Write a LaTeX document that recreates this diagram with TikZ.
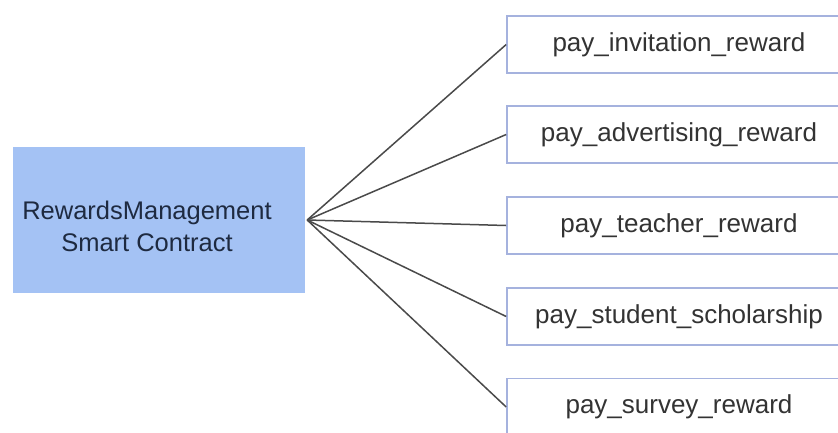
\documentclass[tikz,border=0pt]{standalone}
\usepackage{fontspec}
\setmainfont{Liberation Sans}
\definecolor{mainfill}{HTML}{A4C2F4}
\definecolor{boxline}{RGB}{165,178,222}
\definecolor{connline}{HTML}{4A4A4A}
\definecolor{txtdark}{HTML}{1E2A40}
\definecolor{txtgray}{HTML}{333333}
\tikzset{
  mainbox/.style={fill=mainfill, draw=none, minimum width=292pt, minimum height=146pt,
    inner sep=0pt},
  maintext/.style={align=center, text=txtdark, inner sep=0pt, font=\fontsize{25.5pt}{32pt}\selectfont},
  funcbox/.style={draw=boxline, line width=1.6pt, fill=white, minimum width=344pt, minimum height=57pt,
    inner sep=0pt, text=txtgray, font=\fontsize{26pt}{32pt}\selectfont},
  conn/.style={draw=connline, line width=1.5pt}
}
\begin{document}
\begin{tikzpicture}[x=1pt,y=-1pt]
\clip (0,0) rectangle (838,432);
\fill[white] (0,0) rectangle (838,432);
\node[mainbox] (L) at (159,220) {};
\node[maintext] (Ltxt) at (147,226) {RewardsManagement\\Smart Contract};
\node[funcbox] (f1) at (679,44.5) {pay\_invitation\_reward};
\node[funcbox] (f2) at (679,134.5) {pay\_advertising\_reward};
\node[funcbox] (f3) at (679,225.5) {pay\_teacher\_reward};
\node[funcbox] (f4) at (679,316.5) {pay\_student\_scholarship};
\node[funcbox] (f5) at (679,407) {pay\_survey\_reward};
\coordinate (hub) at ([xshift=2pt]L.east);
\foreach \i in {1,...,5} \draw[conn] (hub) -- (f\i.west);
\end{tikzpicture}
\end{document}
